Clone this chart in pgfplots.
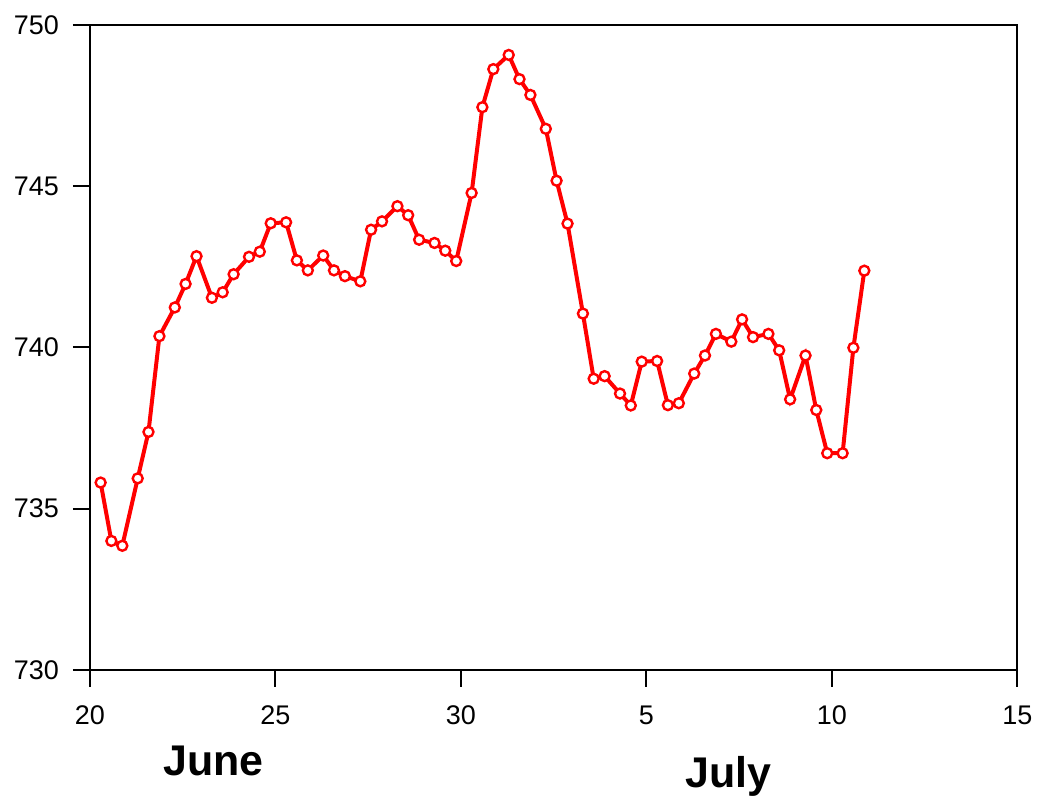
\documentclass[border=0pt]{standalone}
\usepackage{fontspec}
\setmainfont{Liberation Sans}
\usepackage{pgfplots}
\pgfplotsset{compat=1.18}
\usepackage{pgfplotstable}
\pgfplotstableread{
x y
20.29 735.81
20.58 734.00
20.875 733.85
21.29 735.94
21.58 737.38
21.875 740.35
22.29 741.24
22.58 741.97
22.875 742.83
23.29 741.54
23.58 741.71
23.875 742.27
24.29 742.81
24.58 742.97
24.875 743.85
25.29 743.88
25.58 742.70
25.875 742.39
26.29 742.85
26.58 742.39
26.875 742.21
27.29 742.05
27.58 743.65
27.875 743.91
28.29 744.38
28.58 744.10
28.875 743.34
29.29 743.24
29.58 743.00
29.875 742.68
30.29 744.79
30.58 747.45
30.875 748.63
31.29 749.07
31.58 748.32
31.875 747.83
32.29 746.78
32.58 745.17
32.875 743.84
33.29 741.05
33.58 739.03
33.875 739.11
34.29 738.57
34.58 738.20
34.875 739.56
35.29 739.58
35.58 738.21
35.875 738.27
36.29 739.19
36.58 739.75
36.875 740.42
37.29 740.18
37.58 740.87
37.875 740.32
38.29 740.42
38.58 739.91
38.875 738.39
39.29 739.75
39.58 738.06
39.875 736.72
40.29 736.72
40.58 739.99
40.875 742.38
}\pressure
\begin{document}
\begin{tikzpicture}
\begin{axis}[
  at={(0,0)}, anchor=south west,
  scale only axis,
  width=464.5pt, height=323pt,
  xmin=20, xmax=45, ymin=730, ymax=750,
  xtick={20,25,30,35,40,45},
  xticklabels={20,25,30,5,10,15},
  ytick={730,735,740,745,750},
  axis line style={line width=1pt, black},
  tick style={line width=1pt, black},
  major tick length=8.5pt,
  tick align=outside,
  xtick pos=bottom, ytick pos=left,
  /pgf/number format/assume math mode=true,
  /pgf/number format/1000 sep={},
  tick label style={font=\fontsize{13.5}{16}\selectfont},
  xticklabel style={yshift=-6pt},
  yticklabel style={xshift=-3.5pt},
]
\addplot[red, line width=2pt, mark=*, mark size=2.5pt,
  mark options={fill=white, draw=red, line width=1.2pt}]
  table[x=x, y=y] {\pressure};
\end{axis}
\node[anchor=base, font=\fontsize{21.5}{25}\selectfont\bfseries] at (62pt,-53pt) {June};
\node[anchor=base, font=\fontsize{21.5}{25}\selectfont\bfseries] at (320pt,-59pt) {July};
\path[use as bounding box] (-45pt,-63.5pt) rectangle (474.5pt,335.5pt);
\end{tikzpicture}
\end{document}
